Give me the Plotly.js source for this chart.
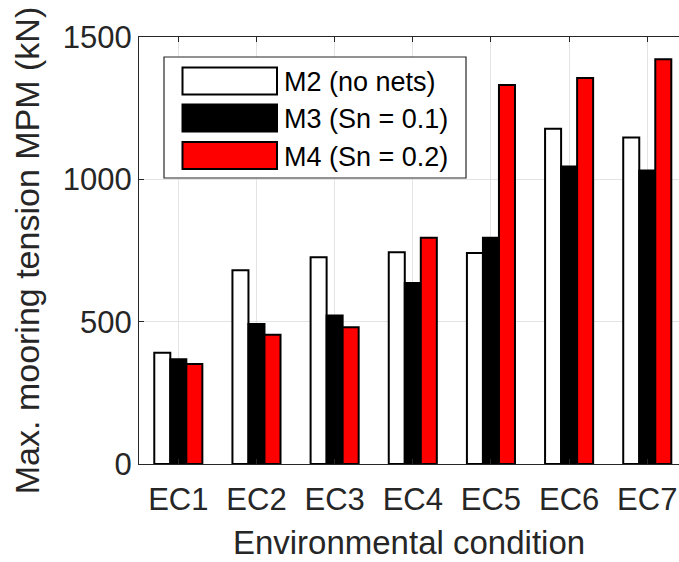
<!DOCTYPE html>
<html>
<head>
<meta charset="utf-8">
<script src="https://cdn.plot.ly/plotly-3.0.1.min.js"></script>
<style>html,body{margin:0;padding:0;background:#fff;}</style>
</head>
<body>
<div id="chart" style="width:679px;height:562px;"></div>
<script>
// ---- data ----
const categories = ['EC1', 'EC2', 'EC3', 'EC4', 'EC5', 'EC6', 'EC7'];
const seriesNames = ['M2 (no nets)', 'M3 (Sn = 0.1)', 'M4 (Sn = 0.2)'];
const m2Values = [391, 681, 726, 744, 741, 1178, 1147];
const m3Values = [368, 492, 522, 636, 795, 1045, 1031];
const m4Values = [351, 454, 480, 795, 1331, 1356, 1422];
const yTickValues = [0, 500, 1000, 1500];
const yTickLabels = ['0', '500', '1000', '1500'];
const xTitle = 'Environmental condition';
const yTitle = 'Max. mooring tension MPM (kN)';

// ---- styles ----
const seriesColors = ['#ffffff', '#000000', '#ff0000'];
const FONT = 'Liberation Sans, Arial, Helvetica, sans-serif';
const AX = '#262626';
const GRID = '#e3e3e3';

const seriesValues = [m2Values, m3Values, m4Values];
const traces = seriesValues.map((vals, i) => ({
  type: 'bar',
  x: categories,
  y: vals,
  name: seriesNames[i],
  marker: {color: seriesColors[i], line: {color: '#000000', width: 2}},
  showlegend: false,
  hoverinfo: 'x+y+name'
}));

// plot-area pixel geometry (for legend layout only)
const W = 679, H = 562, ML = 139, MR = 0, MT = 37, MB = 98;
const PW = W - ML - MR, PH = H - MT - MB;
const px = x => (x - ML) / PW;
const py = y => (H - MB - y) / PH;

const shapes = [];
const annotations = [];
// legend box
shapes.push({type: 'rect', xref: 'paper', yref: 'paper',
  x0: px(164), x1: px(466), y0: py(178), y1: py(57),
  fillcolor: '#ffffff', line: {color: AX, width: 1.2}, layer: 'above'});
const rowCenters = [81, 118, 155.5];
seriesNames.forEach((name, i) => {
  const c = rowCenters[i];
  shapes.push({type: 'rect', xref: 'paper', yref: 'paper',
    x0: px(182.5), x1: px(277), y0: py(c + 13.5), y1: py(c - 13.5),
    fillcolor: seriesColors[i], line: {color: '#000000', width: 2}, layer: 'above'});
  annotations.push({xref: 'paper', yref: 'paper', x: px(282), y: py(c + 1),
    xanchor: 'left', yanchor: 'middle', showarrow: false, text: name,
    font: {family: FONT, size: 27, color: '#000000'}});
});

const layout = {
  width: W, height: H,
  margin: {l: ML, r: MR, t: MT, b: MB, pad: 0},
  paper_bgcolor: '#ffffff', plot_bgcolor: '#ffffff',
  barmode: 'group', bargap: 0.385, bargroupgap: 0,
  font: {family: FONT, color: AX},
  xaxis: {
    type: 'category', range: [-0.503, 6.406],
    showgrid: true, gridcolor: GRID, gridwidth: 1,
    showline: true, linecolor: AX, linewidth: 1, mirror: 'ticks',
    ticks: 'inside', ticklen: 5, tickcolor: AX,
    tickfont: {family: FONT, size: 31, color: AX},
    ticklabelstandoff: 8,
    title: {text: xTitle, font: {family: FONT, size: 33, color: AX}, standoff: 14},
    zeroline: false, fixedrange: true
  },
  yaxis: {
    range: [0, 1500], tickvals: yTickValues, ticktext: yTickLabels,
    showgrid: true, gridcolor: GRID, gridwidth: 1,
    showline: true, linecolor: AX, linewidth: 1, mirror: false,
    ticks: 'inside', ticklen: 5, tickcolor: AX,
    tickfont: {family: FONT, size: 31, color: AX},
    ticklabelstandoff: 0,
    title: {text: yTitle, font: {family: FONT, size: 34, color: AX}, standoff: 12},
    zeroline: false, fixedrange: true
  },
  shapes: shapes,
  annotations: annotations,
  showlegend: false
};

Plotly.newPlot('chart', traces, layout, {displayModeBar: false, staticPlot: true});
</script>
</body>
</html>
